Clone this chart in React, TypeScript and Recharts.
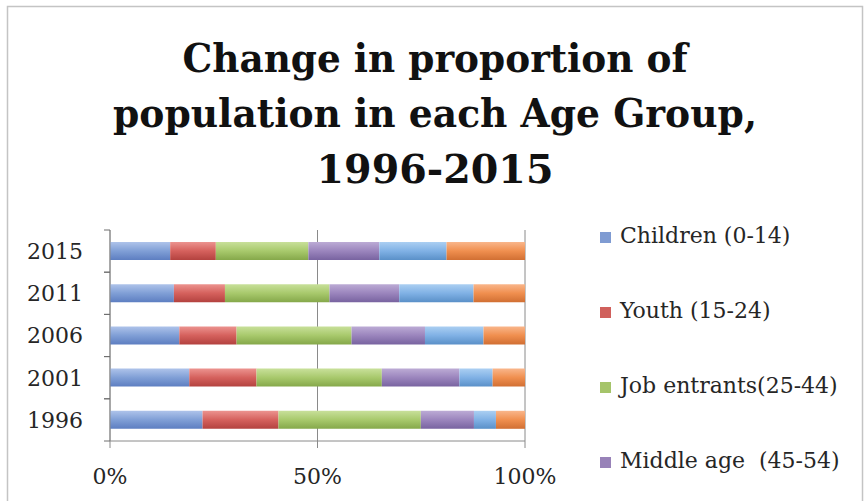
import React from 'react';
import { BarChart, Bar, XAxis, YAxis, CartesianGrid, Legend } from 'recharts';

// ---- data ----
const years = ['1996', '2001', '2006', '2011', '2015'];
const children = [22.3, 19.1, 16.7, 15.4, 14.5];
const youth = [18.3, 16.2, 13.8, 12.3, 11.0];
const jobEntrants = [34.3, 30.2, 27.7, 25.2, 22.3];
const middleAge = [12.8, 18.7, 17.7, 16.8, 17.1];
const olderWorking = [5.3, 8.0, 14.1, 17.9, 16.2];
const elderly = [7.0, 7.8, 10.0, 12.4, 18.9];

const seriesNames = [
  'Children (0-14)',
  'Youth (15-24)',
  'Job entrants(25-44)',
  'Middle age  (45-54)',
  'Older working age (55-64)',
  'Elderly (65+)',
];
const xTicks = [0, 0.5, 1];
const titleLines = ['Change in proportion of', 'population in each Age Group,', '1996-2015'];

const seriesValues = [children, youth, jobEntrants, middleAge, olderWorking, elderly];
const seriesKeys = ['children', 'youth', 'jobEntrants', 'middleAge', 'olderWorking', 'elderly'];

const data = years.map((year, i) => {
  const row: Record<string, string | number> = { year };
  seriesKeys.forEach((k, s) => {
    row[k] = seriesValues[s][i];
  });
  return row;
});

const grads = [
  { id: 'g0', top: '#aec3ea', mid: '#809fd6', bot: '#5d7ec1', solid: '#7f9bd2' },
  { id: 'g1', top: '#ec938f', mid: '#d5615d', bot: '#b3423f', solid: '#d0605c' },
  { id: 'g2', top: '#c8e09a', mid: '#a8c96c', bot: '#85a84a', solid: '#a5c46a' },
  { id: 'g3', top: '#bcabd5', mid: '#9b85bd', bot: '#7863a0', solid: '#9882b8' },
  { id: 'g4', top: '#abcff2', mid: '#80b1e5', bot: '#5a90c8', solid: '#7fafe0' },
  { id: 'g5', top: '#f9b68b', mid: '#f08f4f', bot: '#d16f33', solid: '#ee8c4c' },
];

const FONT = '"DejaVu Serif", serif';
const TEXT = '#262626';
const AXIS = '#8a8a8a';
const EDGE_STROKE = '#6e6e6e';
const Y_TICK_SIZE = 6;
const Y_TICK_MARGIN = 21;
const EDGE_TICK = 6;
const PLOT_TOP = 230;
const PLOT_BOTTOM = 60;
const CHART_H = 501;

// Category tick: label + Excel-style tick marks at the band edges
const YearTick = (props: any) => {
  const { x, y, payload, visibleTicksCount } = props;
  const count = visibleTicksCount || years.length;
  const plotH = CHART_H - PLOT_TOP - PLOT_BOTTOM;
  const half = plotH / count / 2;
  const axisX = x + Y_TICK_SIZE + Y_TICK_MARGIN;
  return (
    <g>
      <line x1={axisX - EDGE_TICK} x2={axisX} y1={y - half} y2={y - half} stroke={EDGE_STROKE} strokeWidth={1} />
      <line x1={axisX - EDGE_TICK} x2={axisX} y1={y + half} y2={y + half} stroke={EDGE_STROKE} strokeWidth={1} />
      <text x={x} y={y} dy="0.355em" textAnchor="end" fontFamily={FONT} fontSize={22} fill={TEXT}>
        {payload.value}
      </text>
    </g>
  );
};

const LegendContent = (props: any) => {
  const payload = (props.payload || [])
    .filter((p: any) => p.type !== 'none')
    .slice()
    .sort((a: any, b: any) => seriesNames.indexOf(a.value) - seriesNames.indexOf(b.value));
  return (
    <div style={{ fontFamily: FONT, fontSize: 22, color: TEXT }}>
      {payload.map((p: any, i: number) => {
        const idx = seriesNames.indexOf(p.value);
        return (
          <div
            key={i}
            style={{ height: 75, display: 'flex', alignItems: 'center', whiteSpace: 'pre' }}
          >
            <span
              style={{
                display: 'inline-block',
                width: 11,
                height: 11,
                background: grads[idx >= 0 ? idx : i].solid,
                marginRight: 9,
                marginTop: 3,
              }}
            />
            <span style={{ lineHeight: '26px' }}>{p.value}</span>
          </div>
        );
      })}
    </div>
  );
};

export default function App() {
  return (
    <div style={{ position: 'absolute', left: 0, top: 0, width: 866, height: 501, background: '#fff', overflow: 'hidden' }}>
      <svg width={0} height={0} style={{ position: 'absolute' }}>
        <defs>
          {grads.map((g) => (
            <linearGradient key={g.id} id={g.id} x1="0" y1="0" x2="0" y2="1">
              <stop offset="0%" stopColor={g.top} />
              <stop offset="50%" stopColor={g.mid} />
              <stop offset="100%" stopColor={g.bot} />
            </linearGradient>
          ))}
        </defs>
      </svg>
      <svg width={866} height={501} style={{ position: 'absolute', left: 0, top: 0 }}>
        <rect x={7.5} y={6.5} width={855} height={520} fill="none" stroke="#c4c4c4" strokeWidth={1.5} />
        <g fontFamily={FONT} fontWeight="bold" fontSize={39} fill="#111" textAnchor="middle">
          <text x={435} y={72} textLength={505} lengthAdjust="spacingAndGlyphs">{titleLines[0]}</text>
          <text x={435} y={127} textLength={644} lengthAdjust="spacingAndGlyphs">{titleLines[1]}</text>
          <text x={435} y={183} textLength={237} lengthAdjust="spacingAndGlyphs">{titleLines[2]}</text>
        </g>
      </svg>
      <div style={{ position: 'absolute', left: 0, top: 0 }}>
        <BarChart
          width={866}
          height={CHART_H}
          data={data}
          layout="vertical"
          stackOffset="expand"
          barSize={18}
          margin={{ top: PLOT_TOP, right: 341, bottom: 0, left: 0 }}
        >
          <CartesianGrid horizontal={false} stroke={AXIS} strokeWidth={1} />
          <XAxis
            type="number"
            domain={[0, 1]}
            ticks={xTicks}
            tickFormatter={(v: number) => `${Math.round(v * 100)}%`}
            height={PLOT_BOTTOM}
            tickSize={7}
            tickMargin={20}
            stroke={AXIS}
            tick={{ fontFamily: FONT, fontSize: 22, fill: TEXT }}
            allowDataOverflow
          />
          <YAxis
            type="category"
            dataKey="year"
            reversed
            width={110}
            tickLine={false}
            tickSize={Y_TICK_SIZE}
            tickMargin={Y_TICK_MARGIN}
            stroke={AXIS}
            tick={YearTick}
          />
          <Legend
            layout="vertical"
            align="center"
            verticalAlign="middle"
            wrapperStyle={{ left: 600, top: 198, width: 262 }}
            content={LegendContent}
          />
          {seriesKeys.map((k, i) => (
            <Bar
              key={k}
              dataKey={k}
              name={seriesNames[i]}
              stackId="a"
              fill={`url(#${grads[i].id})`}
              legendType={i < 4 ? 'square' : 'none'}
              isAnimationActive={false}
            />
          ))}
        </BarChart>
      </div>
    </div>
  );
}
